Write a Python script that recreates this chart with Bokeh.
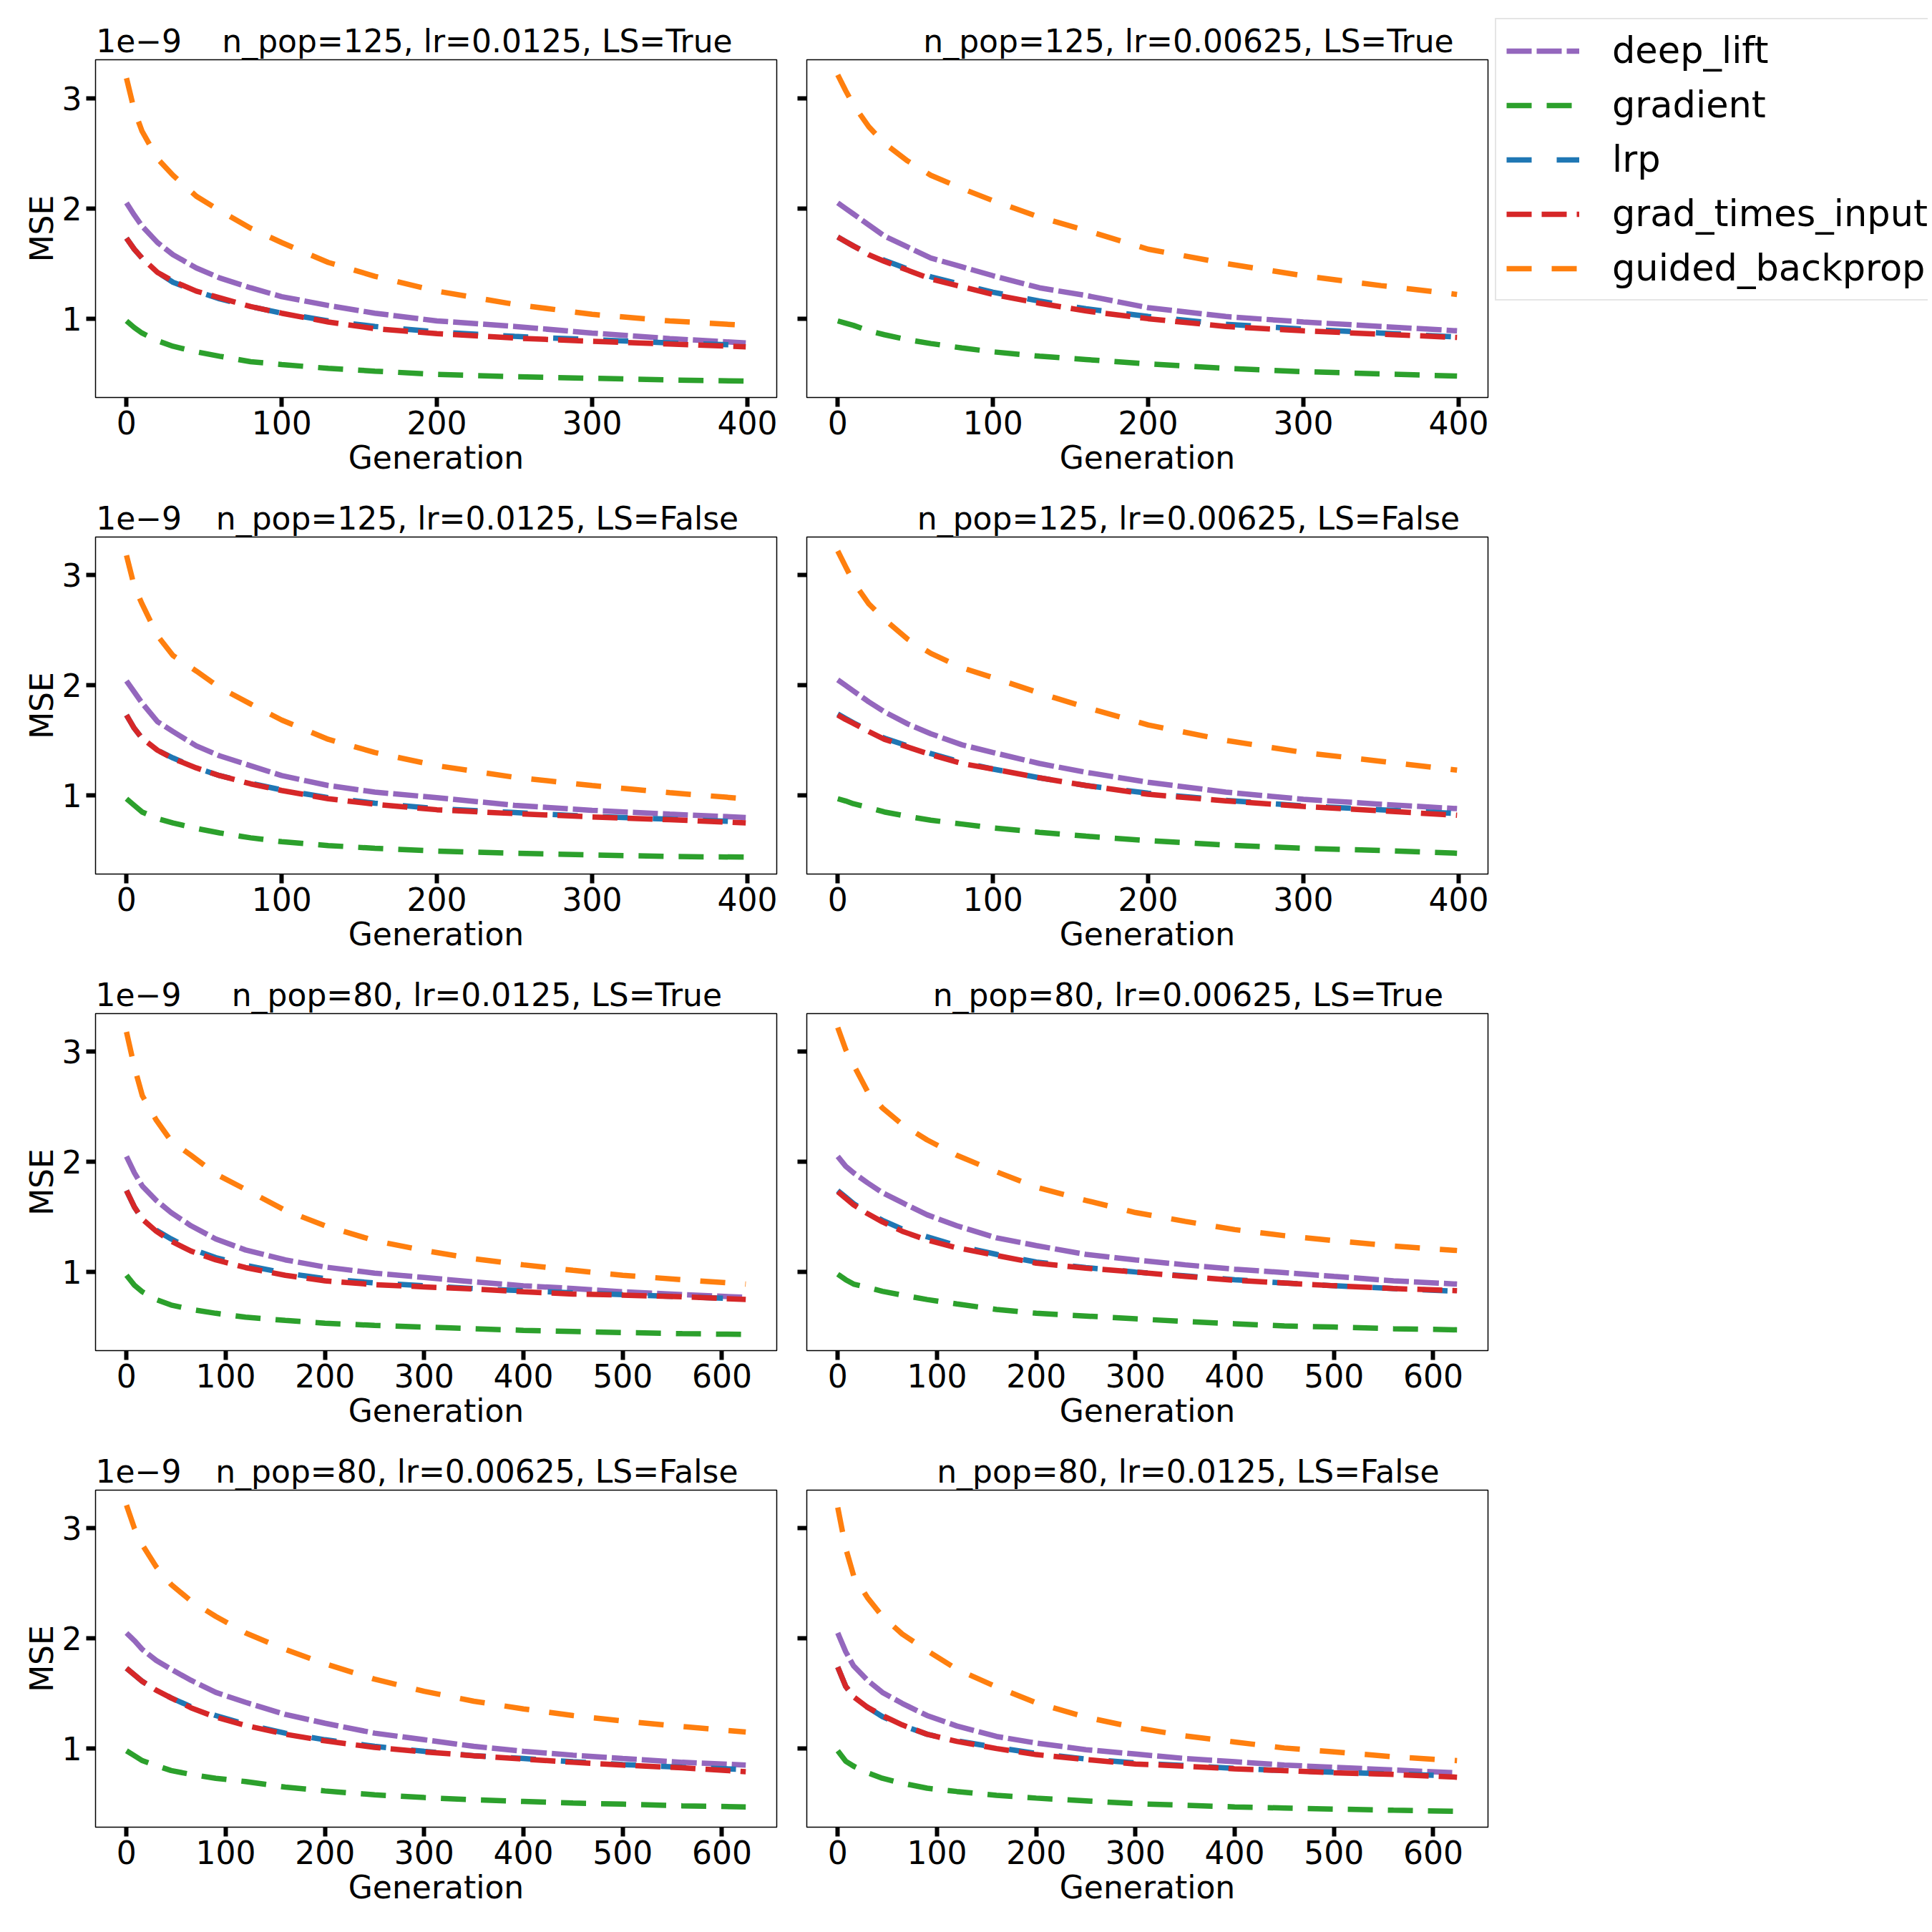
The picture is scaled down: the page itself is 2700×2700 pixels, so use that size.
from bokeh.plotting import figure
from bokeh.models import Range1d, FixedTicker, Legend, LegendItem, LinearAxis
from bokeh.layouts import column, row
from bokeh.embed import file_html
from bokeh.resources import INLINE

# ---------------- data (MSE values in units of 1e-9) ----------------
METHODS = ["deep_lift", "gradient", "lrp", "grad_times_input", "guided_backprop"]

GEN_125 = [0, 5, 10, 20, 30, 45, 60, 80, 100, 130, 160, 200, 250, 300, 350, 399]
GEN_80 = [0, 8, 16, 30, 45, 65, 90, 120, 160, 200, 250, 300, 350, 400, 450, 500, 560, 624]

TICKS_125 = [0, 100, 200, 300, 400]
TICKS_80 = [0, 100, 200, 300, 400, 500, 600]
Y_TICKS = [1, 2, 3]
OFFSET_TEXT = "1e\u22129"

TITLES = [
    "n_pop=125, lr=0.0125, LS=True", "n_pop=125, lr=0.00625, LS=True",
    "n_pop=125, lr=0.0125, LS=False", "n_pop=125, lr=0.00625, LS=False",
    "n_pop=80, lr=0.0125, LS=True", "n_pop=80, lr=0.00625, LS=True",
    "n_pop=80, lr=0.00625, LS=False", "n_pop=80, lr=0.0125, LS=False",
]

P125_0125_T = {
    "deep_lift": [2.05, 1.94, 1.84, 1.69, 1.58, 1.46, 1.37, 1.28, 1.20, 1.12, 1.05, 0.98, 0.93, 0.87, 0.82, 0.78],
    "gradient": [0.98, 0.92, 0.87, 0.80, 0.75, 0.70, 0.66, 0.61, 0.585, 0.55, 0.525, 0.495, 0.475, 0.46, 0.445, 0.435],
    "lrp": [1.73, 1.63, 1.55, 1.42, 1.33, 1.25, 1.18, 1.11, 1.05, 0.98, 0.93, 0.88, 0.84, 0.81, 0.78, 0.76],
    "grad_times_input": [1.73, 1.63, 1.55, 1.42, 1.34, 1.25, 1.19, 1.11, 1.05, 0.97, 0.91, 0.865, 0.825, 0.795, 0.77, 0.745],
    "guided_backprop": [3.18, 2.89, 2.70, 2.45, 2.30, 2.11, 1.98, 1.82, 1.69, 1.51, 1.385, 1.25, 1.13, 1.04, 0.98, 0.94],
}
P125_00625_T = {
    "deep_lift": [2.05, 2.00, 1.95, 1.85, 1.75, 1.65, 1.55, 1.47, 1.39, 1.28, 1.21, 1.10, 1.02, 0.97, 0.93, 0.89],
    "gradient": [0.98, 0.96, 0.94, 0.89, 0.855, 0.81, 0.775, 0.735, 0.70, 0.66, 0.63, 0.59, 0.55, 0.52, 0.50, 0.48],
    "lrp": [1.74, 1.70, 1.66, 1.59, 1.53, 1.45, 1.38, 1.31, 1.24, 1.16, 1.09, 1.02, 0.95, 0.905, 0.87, 0.835],
    "grad_times_input": [1.74, 1.70, 1.66, 1.58, 1.52, 1.44, 1.36, 1.29, 1.22, 1.14, 1.07, 1.00, 0.93, 0.89, 0.86, 0.83],
    "guided_backprop": [3.21, 3.07, 2.94, 2.74, 2.59, 2.43, 2.30, 2.18, 2.07, 1.92, 1.80, 1.63, 1.50, 1.39, 1.30, 1.22],
}
P125_0125_F = {
    "deep_lift": [2.04, 1.94, 1.84, 1.67, 1.58, 1.45, 1.36, 1.27, 1.18, 1.09, 1.03, 0.98, 0.91, 0.865, 0.83, 0.80],
    "gradient": [0.97, 0.91, 0.85, 0.79, 0.75, 0.70, 0.66, 0.615, 0.58, 0.545, 0.52, 0.495, 0.475, 0.46, 0.445, 0.44],
    "lrp": [1.73, 1.61, 1.52, 1.41, 1.34, 1.25, 1.18, 1.11, 1.05, 0.98, 0.93, 0.88, 0.845, 0.81, 0.785, 0.76],
    "grad_times_input": [1.73, 1.61, 1.52, 1.41, 1.335, 1.25, 1.18, 1.105, 1.045, 0.97, 0.92, 0.87, 0.835, 0.805, 0.78, 0.75],
    "guided_backprop": [3.18, 2.90, 2.74, 2.45, 2.27, 2.13, 1.98, 1.83, 1.685, 1.51, 1.39, 1.27, 1.165, 1.09, 1.025, 0.97],
}
P125_00625_F = {
    "deep_lift": [2.05, 2.00, 1.95, 1.85, 1.76, 1.65, 1.56, 1.46, 1.39, 1.29, 1.21, 1.12, 1.03, 0.965, 0.92, 0.88],
    "gradient": [0.97, 0.95, 0.925, 0.89, 0.85, 0.81, 0.775, 0.74, 0.705, 0.665, 0.63, 0.59, 0.55, 0.52, 0.50, 0.475],
    "lrp": [1.74, 1.70, 1.66, 1.59, 1.52, 1.45, 1.38, 1.30, 1.24, 1.16, 1.09, 1.02, 0.955, 0.905, 0.87, 0.835],
    "grad_times_input": [1.73, 1.69, 1.655, 1.58, 1.51, 1.44, 1.37, 1.29, 1.24, 1.16, 1.09, 1.01, 0.95, 0.90, 0.86, 0.82],
    "guided_backprop": [3.22, 3.08, 2.94, 2.74, 2.60, 2.42, 2.29, 2.16, 2.07, 1.93, 1.80, 1.64, 1.50, 1.39, 1.31, 1.23],
}
P80_0125_T = {
    "deep_lift": [2.05, 1.90, 1.78, 1.65, 1.54, 1.42, 1.30, 1.20, 1.11, 1.045, 0.99, 0.95, 0.91, 0.875, 0.85, 0.82, 0.795, 0.77],
    "gradient": [0.97, 0.88, 0.82, 0.75, 0.70, 0.66, 0.625, 0.59, 0.56, 0.535, 0.515, 0.50, 0.485, 0.47, 0.46, 0.45, 0.44, 0.433],
    "lrp": [1.74, 1.59, 1.48, 1.38, 1.30, 1.21, 1.13, 1.06, 0.99, 0.94, 0.90, 0.875, 0.85, 0.83, 0.81, 0.795, 0.775, 0.755],
    "grad_times_input": [1.74, 1.59, 1.48, 1.37, 1.28, 1.19, 1.11, 1.04, 0.97, 0.92, 0.885, 0.865, 0.845, 0.82, 0.80, 0.79, 0.775, 0.75],
    "guided_backprop": [3.18, 2.86, 2.60, 2.38, 2.19, 2.06, 1.89, 1.75, 1.56, 1.42, 1.285, 1.195, 1.12, 1.065, 1.015, 0.97, 0.93, 0.89],
}
P80_00625_T = {
    "deep_lift": [2.05, 1.96, 1.90, 1.81, 1.72, 1.63, 1.52, 1.42, 1.31, 1.24, 1.16, 1.11, 1.065, 1.025, 0.995, 0.96, 0.92, 0.89],
    "gradient": [0.98, 0.93, 0.89, 0.86, 0.825, 0.79, 0.75, 0.71, 0.66, 0.625, 0.60, 0.575, 0.55, 0.53, 0.51, 0.50, 0.485, 0.475],
    "lrp": [1.74, 1.68, 1.62, 1.54, 1.47, 1.39, 1.32, 1.24, 1.16, 1.09, 1.04, 1.00, 0.965, 0.93, 0.90, 0.875, 0.85, 0.825],
    "grad_times_input": [1.73, 1.67, 1.61, 1.53, 1.455, 1.37, 1.29, 1.22, 1.15, 1.08, 1.035, 1.00, 0.96, 0.925, 0.90, 0.875, 0.85, 0.83],
    "guided_backprop": [3.22, 3.02, 2.88, 2.64, 2.49, 2.34, 2.20, 2.06, 1.91, 1.77, 1.65, 1.54, 1.46, 1.385, 1.33, 1.285, 1.235, 1.195],
}
P80_00625_F = {
    "deep_lift": [2.05, 1.98, 1.90, 1.80, 1.72, 1.62, 1.51, 1.42, 1.31, 1.23, 1.14, 1.08, 1.02, 0.975, 0.94, 0.91, 0.875, 0.85],
    "gradient": [0.98, 0.935, 0.89, 0.845, 0.80, 0.765, 0.73, 0.70, 0.65, 0.615, 0.58, 0.555, 0.535, 0.52, 0.505, 0.495, 0.48, 0.47],
    "lrp": [1.73, 1.67, 1.61, 1.53, 1.46, 1.38, 1.30, 1.22, 1.14, 1.08, 1.02, 0.975, 0.935, 0.91, 0.88, 0.855, 0.83, 0.81],
    "grad_times_input": [1.73, 1.67, 1.61, 1.53, 1.46, 1.37, 1.285, 1.21, 1.13, 1.07, 1.01, 0.97, 0.935, 0.905, 0.875, 0.85, 0.825, 0.79],
    "guided_backprop": [3.21, 3.00, 2.85, 2.65, 2.49, 2.34, 2.20, 2.05, 1.90, 1.77, 1.63, 1.52, 1.43, 1.36, 1.30, 1.25, 1.20, 1.15],
}
P80_0125_F = {
    "deep_lift": [2.05, 1.88, 1.75, 1.62, 1.51, 1.41, 1.30, 1.205, 1.11, 1.05, 0.99, 0.95, 0.91, 0.88, 0.85, 0.83, 0.805, 0.78],
    "gradient": [0.98, 0.885, 0.84, 0.78, 0.73, 0.685, 0.64, 0.61, 0.575, 0.55, 0.525, 0.50, 0.485, 0.47, 0.46, 0.45, 0.44, 0.43],
    "lrp": [1.74, 1.565, 1.47, 1.375, 1.29, 1.21, 1.13, 1.07, 1.01, 0.955, 0.905, 0.87, 0.845, 0.82, 0.80, 0.785, 0.77, 0.75],
    "grad_times_input": [1.74, 1.565, 1.47, 1.375, 1.30, 1.215, 1.13, 1.065, 1.00, 0.945, 0.90, 0.86, 0.84, 0.815, 0.80, 0.78, 0.765, 0.74],
    "guided_backprop": [3.19, 2.82, 2.57, 2.37, 2.20, 2.04, 1.89, 1.72, 1.56, 1.415, 1.285, 1.19, 1.115, 1.06, 1.005, 0.97, 0.925, 0.89],
}

PANEL_DATA = [P125_0125_T, P125_00625_T, P125_0125_F, P125_00625_F,
              P80_0125_T, P80_00625_T, P80_00625_F, P80_0125_F]
PANEL_GEN = [GEN_125, GEN_125, GEN_125, GEN_125, GEN_80, GEN_80, GEN_80, GEN_80]
PANEL_TICKS = [TICKS_125, TICKS_125, TICKS_125, TICKS_125, TICKS_80, TICKS_80, TICKS_80, TICKS_80]

# ---------------- styles / layout ----------------
FONT = "DejaVu Sans"
COLORS = {"deep_lift": "#9467bd", "gradient": "#2ca02c", "lrp": "#1f77b4",
          "grad_times_input": "#d62728", "guided_backprop": "#ff7f0e"}
DASHES = {"deep_lift": "35 7", "gradient": "35 21", "lrp": "35 35",
          "grad_times_input": "35 14", "guided_backprop": "35 28"}
LINE_W = 7.5
Y_LO, Y_HI = 0.286, 3.347

FRAME_W, FRAME_H = 952, 472
FIRST_TOP, TOP, BOTTOM = 83, 54, 140
LEFT_COL_BL, LEFT_COL_BR = 133, 10
RIGHT_COL_BL, RIGHT_COL_BR = 32, 10
TITLE_SHIFT_PX = 57      # title centre sits right of the frame centre
OFFSET_TEXT_PX = 60      # centre of the "1e-9" text from the frame's left edge
LEGEND_FIG_H = 440
LEGEND_TOP, LEGEND_H = 30, 390


def style_axis(ax, size="44px"):
    ax.axis_line_color = None
    ax.major_tick_line_color = "black"
    ax.major_tick_line_width = 6
    ax.major_tick_out = 13
    ax.major_tick_in = 0
    ax.minor_tick_line_color = None
    ax.major_label_text_font = FONT
    ax.major_label_text_font_size = size
    ax.major_label_text_color = "black"
    ax.axis_label_text_font = FONT
    ax.axis_label_text_font_size = "44px"
    ax.axis_label_text_font_style = "normal"
    ax.axis_label_text_color = "black"


def make_panel(idx):
    col = idx % 2
    r = idx // 2
    gens = PANEL_GEN[idx]
    data = PANEL_DATA[idx]
    span = gens[-1] - gens[0]
    xr = Range1d(gens[0] - 0.05 * span, gens[-1] + 0.05 * span)
    yr = Range1d(Y_LO, Y_HI)
    bl, br = (LEFT_COL_BL, LEFT_COL_BR) if col == 0 else (RIGHT_COL_BL, RIGHT_COL_BR)
    top = FIRST_TOP if r == 0 else TOP
    p = figure(width=bl + FRAME_W + br, height=top + FRAME_H + BOTTOM,
               x_range=xr, y_range=yr, output_backend="svg", toolbar_location=None,
               title_location=None,
               min_border_left=bl, min_border_right=br,
               min_border_top=top, min_border_bottom=BOTTOM)
    p.xgrid.visible = False
    p.ygrid.visible = False
    p.outline_line_color = "black"
    p.outline_line_width = 1.5
    p.outline_line_alpha = 1.0
    p.background_fill_color = "white"
    p.border_fill_color = "white"

    p.xaxis.ticker = FixedTicker(ticks=PANEL_TICKS[idx])
    p.yaxis.ticker = FixedTicker(ticks=Y_TICKS)
    style_axis(p.xaxis[0])
    style_axis(p.yaxis[0])
    p.xaxis.axis_label = "Generation"
    p.xaxis.major_label_standoff = 5
    p.xaxis.axis_label_standoff = 4
    if col == 0:
        p.yaxis.axis_label = "MSE"
        p.yaxis.major_label_standoff = 6
        p.yaxis.axis_label_standoff = 0
    else:
        p.yaxis.major_label_overrides = {t: "" for t in Y_TICKS}

    for m in METHODS:
        p.line(gens, data[m], line_color=COLORS[m], line_width=LINE_W, line_dash=DASHES[m])

    # title and offset text as labels of a tick-less axis above the frame
    px_per_unit = FRAME_W / (xr.end - xr.start)
    title_x = round(0.5 * (xr.start + xr.end) + TITLE_SHIFT_PX / px_per_unit)
    ticks = [title_x]
    overrides = {title_x: TITLES[idx]}
    if col == 0:
        off_x = round(xr.start + OFFSET_TEXT_PX / px_per_unit)
        ticks.insert(0, off_x)
        overrides[off_x] = OFFSET_TEXT
    top_axis = LinearAxis(ticker=FixedTicker(ticks=ticks), major_label_overrides=overrides)
    style_axis(top_axis)
    top_axis.major_tick_out = 0
    top_axis.major_tick_line_color = None
    top_axis.major_label_standoff = 1
    p.add_layout(top_axis, "above")
    return p


def make_legend_figure():
    lf = figure(width=605, height=LEGEND_FIG_H, x_range=Range1d(0, 1), y_range=Range1d(0, 1),
                output_backend="svg", toolbar_location=None, title_location=None,
                x_axis_type=None, y_axis_type=None,
                min_border_left=0, min_border_right=0, min_border_top=0, min_border_bottom=0)
    lf.outline_line_color = None
    lf.xgrid.visible = False
    lf.ygrid.visible = False
    lf.background_fill_color = "white"
    lf.border_fill_color = "white"
    items = []
    for m in METHODS:
        rr = lf.line([5, 6], [5, 6], line_color=COLORS[m], line_width=LINE_W, line_dash=DASHES[m])
        items.append(LegendItem(label=m, renderers=[rr]))
    legend = Legend(items=items, location=(0, LEGEND_FIG_H - LEGEND_TOP - LEGEND_H))
    legend.label_text_font = FONT
    legend.label_text_font_size = "51px"
    legend.label_text_color = "black"
    legend.glyph_width = 102
    legend.glyph_height = 58
    legend.label_height = 58
    legend.label_standoff = 46
    legend.spacing = 17
    legend.padding = 14
    legend.margin = 0
    legend.border_line_color = "#cccccc"
    legend.border_line_width = 2
    legend.background_fill_color = "white"
    legend.background_fill_alpha = 1.0
    lf.add_layout(legend)
    return lf


panels = [make_panel(i) for i in range(8)]
grid = column(*[row(panels[2 * r], panels[2 * r + 1]) for r in range(4)])
layout = row(grid, make_legend_figure())

open("out.html", "w").write(file_html(layout, INLINE))
